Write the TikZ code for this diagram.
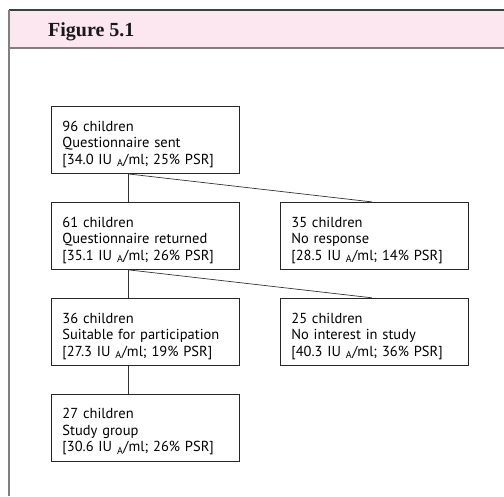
\documentclass[tikz,border=0pt]{standalone}
\usepackage{fontspec}
\setsansfont{PT Sans}
\newfontfamily\headfont{Liberation Serif}
\usetikzlibrary{positioning, calc}

\definecolor{headpink}{HTML}{FCE6EF}
\definecolor{framegrey}{HTML}{808080}

\begin{document}
\begin{tikzpicture}[
    x=1pt, y=1pt,
    node distance=28pt and 40pt,
    stage/.style={rectangle, draw=black!85, line width=0.9pt, minimum width=188pt,
        minimum height=67pt, text width=166pt, inner xsep=11pt, align=left,
        text height=19pt, font=\sffamily\fontsize{14.5}{16.5}\selectfont},
    link/.style={draw=black!80, line width=0.7pt}
]
    \useasboundingbox (0,0) rectangle (504,-496);

    % frame and heading
    \fill[headpink] (9,-10) rectangle (504,-48);
    \draw[black!75, line width=1.5pt] (9,-10) -- (504,-10);
    \draw[framegrey, line width=1.5pt] (9,-48) -- (504,-48);
    \draw[framegrey, line width=1.5pt] (9,-10) -- (9,-496);
    \node[anchor=base west, inner sep=0pt, text=black!90,
          font=\headfont\bfseries\fontsize{20}{22}\selectfont] (title) at (48,-36) {Figure 5.1};

    % stages
    \node[stage, anchor=north west] (sent) at (51,-106)
        {96 children\\Questionnaire sent\\{}[34.0 IU \textsubscript{A}/ml; 25\% PSR]};
    \node[stage, below=of sent] (returned)
        {61 children\\Questionnaire returned\\{}[35.1 IU \textsubscript{A}/ml; 26\% PSR]};
    \node[stage, right=of returned] (noresp)
        {35 children\\No response\\{}[28.5 IU \textsubscript{A}/ml; 14\% PSR]};
    \node[stage, below=of returned] (suitable)
        {36 children\\Suitable for participation\\{}[27.3 IU \textsubscript{A}/ml; 19\% PSR]};
    \node[stage, right=of suitable] (nointerest)
        {25 children\\No interest in study\\{}[40.3 IU \textsubscript{A}/ml; 36\% PSR]};
    \node[stage, below=of suitable] (study)
        {27 children\\Study group\\{}[30.6 IU \textsubscript{A}/ml; 26\% PSR]};

    % connectors
    \draw[link] ([xshift=77pt]sent.south west) -- ([xshift=77pt]returned.north west);
    \draw[link] ([xshift=77pt]sent.south west) -- ([xshift=92pt]noresp.north west);
    \draw[link] ([xshift=77pt]returned.south west) -- ([xshift=77pt]suitable.north west);
    \draw[link] ([xshift=77pt]returned.south west) -- ([xshift=92pt]nointerest.north west);
    \draw[link] ([xshift=77pt]suitable.south west) -- ([xshift=77pt]study.north west);
\end{tikzpicture}
\end{document}
